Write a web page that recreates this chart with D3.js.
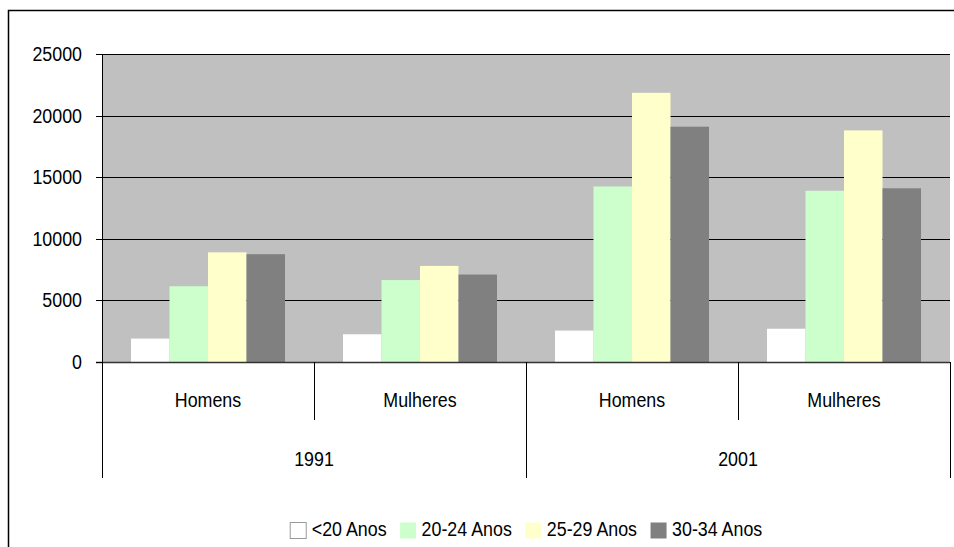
<!DOCTYPE html>
<html><head><meta charset="utf-8">
<script src="https://cdn.jsdelivr.net/npm/d3@7"></script>
<style>
body{margin:0;background:#fff}
svg{display:block}
text{font-family:"Liberation Sans",Arial,Helvetica,sans-serif;font-size:21px;fill:#000}
</style></head>
<body><svg id="c" width="954" height="547"></svg>
<script>
const years = ["1991", "2001"];
const sexes = ["Homens", "Mulheres"];
const series = ["<20 Anos", "20-24 Anos", "25-29 Anos", "30-34 Anos"];
const colors = ["#ffffff", "#ccffcc", "#ffffcc", "#808080"];
// values per category: 1991 Homens, 1991 Mulheres, 2001 Homens, 2001 Mulheres
const vLt20 = [1900, 2250, 2550, 2700];
const v2024 = [6150, 6650, 14250, 13900];
const v2529 = [8900, 7800, 21850, 18800];
const v3034 = [8750, 7100, 19100, 14100];
const yTicks = [0, 5000, 10000, 15000, 20000, 25000];

const seriesValues = [vLt20, v2024, v2529, v3034];
const categories = [];
years.forEach(y => sexes.forEach(s => categories.push({year: y, sex: s})));

const SX = 0.85;
const svg = d3.select("#c");
const L = 102, R = 950, T = 54, B = 362;

// outer frame
svg.append("rect").attr("x", 8.5).attr("y", 10.5).attr("width", 950).attr("height", 560)
  .attr("fill", "none").attr("stroke", "#000").attr("stroke-width", 1.5);

const x0 = d3.scaleBand().domain(d3.range(categories.length)).range([L, R]).padding(0);
const x1 = d3.scaleBand().domain(d3.range(series.length)).range([0, x0.bandwidth()])
  .paddingInner(0).paddingOuter(0.753);
const y = d3.scaleLinear().domain([0, 25000]).range([B, T]);

// plot background
svg.append("rect").attr("x", L).attr("y", y(25000)).attr("width", R - L).attr("height", y(0) - y(25000))
  .attr("fill", "#c0c0c0");

// gridlines
svg.selectAll("line.grid").data(yTicks.filter(d => d > 0)).enter().append("line")
  .attr("x1", L).attr("x2", R).attr("y1", d => Math.round(y(d)) + 0.5).attr("y2", d => Math.round(y(d)) + 0.5)
  .attr("stroke", "#000").attr("stroke-width", 1);

// bars
const barData = [];
categories.forEach((c, ci) => seriesValues.forEach((vals, si) => barData.push({ci, si, v: vals[ci]})));
svg.selectAll("rect.bar").data(barData).enter().append("rect")
  .attr("x", d => x0(d.ci) + x1(d.si))
  .attr("width", x1.bandwidth())
  .attr("y", d => y(d.v))
  .attr("height", d => y(0) - y(d.v))
  .attr("fill", d => colors[d.si]);

// axes lines
svg.append("line").attr("x1", L + 0.5).attr("x2", L + 0.5).attr("y1", T).attr("y2", 478)
  .attr("stroke", "#000").attr("stroke-width", 1);
svg.append("line").attr("x1", 96).attr("x2", R).attr("y1", B + 0.5).attr("y2", B + 0.5)
  .attr("stroke", "#333").attr("stroke-width", 1.5);

// y ticks + labels
yTicks.forEach(t => {
  const yy = Math.round(y(t)) + 0.5;
  svg.append("line").attr("x1", 96).attr("x2", L).attr("y1", yy).attr("y2", yy).attr("stroke", "#000");
  svg.append("g").attr("transform", `translate(82,${yy + 6.5}) scale(${SX},1)`)
    .append("text").attr("text-anchor", "end").text(t);
});

// category axis: separators
const sepData = [];
for (let i = 0; i <= categories.length; i++) {
  const xx = i < categories.length ? x0(i) : R;
  const full = (i % sexes.length === 0);
  sepData.push({x: xx, bottom: full ? 478 : 420});
}
svg.selectAll("line.sep").data(sepData).enter().append("line")
  .attr("x1", d => Math.round(d.x) + 0.5).attr("x2", d => Math.round(d.x) + 0.5)
  .attr("y1", B).attr("y2", d => d.bottom).attr("stroke", "#000").attr("stroke-width", 1);

// sex labels
categories.forEach((c, ci) => {
  svg.append("g").attr("transform", `translate(${x0(ci) + x0.bandwidth() / 2},407) scale(${SX},1)`)
    .append("text").attr("text-anchor", "middle").text(c.sex);
});
// year labels
years.forEach((yr, yi) => {
  const xs = x0(yi * sexes.length), xe = yi * sexes.length + sexes.length < categories.length ? x0(yi * sexes.length + sexes.length) : R;
  svg.append("g").attr("transform", `translate(${(xs + xe) / 2},466) scale(${SX},1)`)
    .append("text").attr("text-anchor", "middle").text(yr);
});

// legend
const leg = svg.append("g");
const items = [];
let cx = 0;
series.forEach((s, i) => {
  const g = leg.append("g");
  g.append("rect").attr("x", cx + 0.5).attr("y", 522.5).attr("width", 16).attr("height", 16)
    .attr("fill", colors[i]).attr("stroke", i === 0 ? "#999" : "none").attr("stroke-width", 1);
  const tg = g.append("g").attr("transform", `translate(${cx + 22},536) scale(${SX},1)`);
  const t = tg.append("text").text(s);
  const w = t.node().getComputedTextLength() * SX;
  cx += 22 + w + 13;
});
const total = cx - 13;
leg.attr("transform", `translate(${(L + R) / 2 - total / 2},0)`);
</script></body></html>
